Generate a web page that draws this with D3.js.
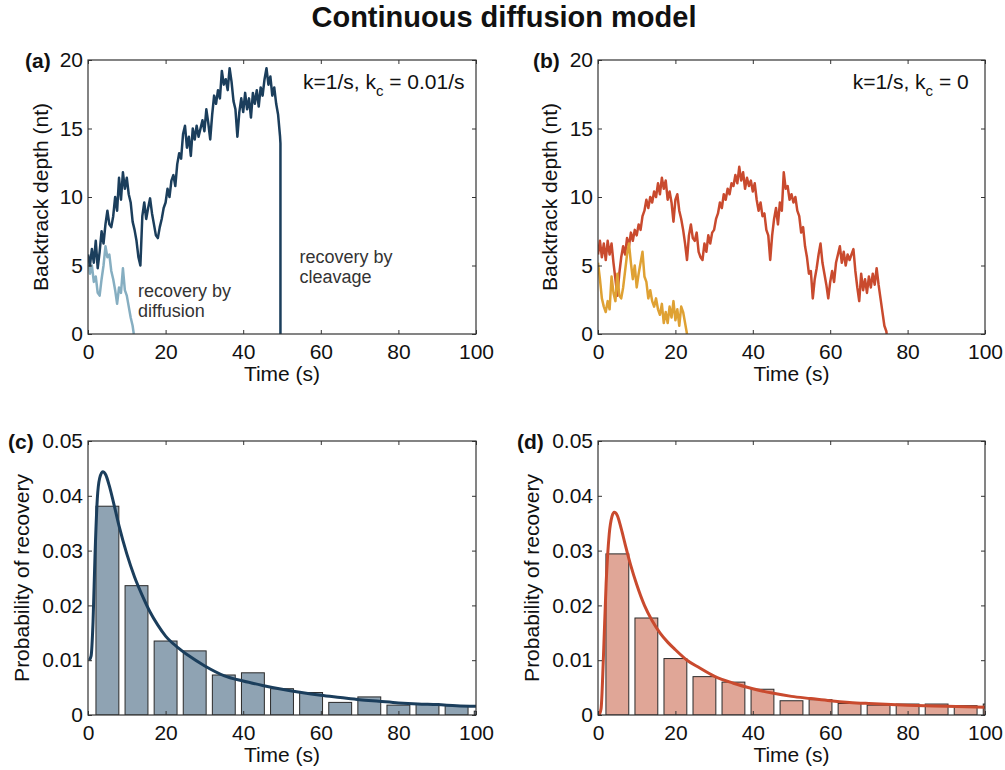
<!DOCTYPE html>
<html>
<head>
<meta charset="utf-8">
<script src="https://cdn.jsdelivr.net/npm/d3@7"></script>
<style>
  html, body { margin: 0; padding: 0; background: #ffffff; }
  svg { display: block; font-family: "Liberation Sans", Arial, Helvetica, sans-serif; }
</style>
</head>
<body>
<svg id="chart" width="1005" height="770"></svg>
<script>
// ---------------- DATA ----------------
const titleText = "Continuous diffusion model";
const timeTicks = [0, 20, 40, 60, 80, 100];
const depthTicks = [0, 5, 10, 15, 20];
const probTicks = [0, 0.01, 0.02, 0.03, 0.04, 0.05];

const traceStep = 0.5; // s between samples

// (a) trajectory ending by cleavage (dark)
const traceCleave = [
  5.8, 5.0, 6.2, 5.2, 6.8, 4.8, 6.0, 7.5, 6.6, 8.0,
  9.0, 8.0, 7.8, 8.6, 10.0, 9.0, 11.4, 9.8, 11.8, 10.6,
  11.4, 10.2, 9.6, 8.2, 7.6, 6.8, 5.6, 5.0, 8.6, 9.6,
  8.4, 9.2, 9.9, 8.8, 8.0, 7.2, 7.0, 7.8, 8.4, 9.2,
  9.6, 10.6, 10.0, 11.2, 11.6, 10.8, 12.4, 13.2, 12.8, 14.6,
  15.2, 13.6, 14.4, 13.0, 15.0, 14.2, 15.2, 14.4, 15.0, 15.6,
  14.8, 16.4, 15.4, 14.2, 16.0, 17.4, 16.8, 17.8, 17.2, 19.2,
  18.2, 18.6, 17.8, 19.4, 18.4, 17.0, 16.4, 14.4, 16.2, 17.2,
  16.2, 17.6, 16.4, 17.2, 15.8, 17.6, 16.8, 17.8, 16.6, 18.0,
  17.4, 18.6, 19.4, 18.2, 18.8, 17.4, 18.0, 16.8, 16.0, 14.4
];
const traceCleaveTailT = [49.6, 49.6];
const traceCleaveTailV = [13.9, 0];

// (a) trajectory ending by diffusion (light)
const traceDiffuse = [
  5.6, 4.4, 5.0, 3.8, 4.2, 3.0, 2.8, 4.0, 5.0, 6.4,
  5.6, 5.8, 4.6, 4.0, 3.2, 2.2, 3.4, 3.0, 4.8, 3.2,
  2.8, 2.0, 1.2, 0.6
];
const traceDiffuseTailT = [11.8];
const traceDiffuseTailV = [0];

// (b) long trajectory (red)
const traceLong = [
  5.8, 6.8, 5.6, 6.6, 5.4, 6.8, 5.8, 6.6, 5.2, 4.0,
  2.8, 4.4, 5.6, 6.4, 5.8, 7.0, 6.4, 7.4, 6.8, 7.6,
  7.2, 8.0, 7.6, 8.6, 9.0, 9.8, 9.2, 10.0, 9.6, 10.4,
  10.0, 11.0, 10.2, 11.4, 10.6, 11.2, 9.8, 10.4, 9.6, 8.2,
  9.8, 10.2, 9.0, 8.4, 7.6, 6.6, 5.4, 7.2, 8.0, 7.0,
  6.8, 7.4, 6.0, 5.6, 5.4, 6.6, 6.0, 7.2, 6.6, 7.4,
  7.6, 8.4, 8.8, 9.6, 9.2, 10.2, 9.8, 10.6, 10.2, 11.0,
  10.8, 11.6, 11.0, 12.2, 11.2, 11.8, 10.6, 11.4, 10.8, 11.2,
  10.4, 11.0, 9.8, 9.0, 9.6, 8.6, 8.8, 7.6, 7.2, 5.4,
  7.2, 8.4, 9.2, 8.0, 9.6, 9.0, 11.8, 10.6, 10.8, 9.8,
  10.2, 9.6, 10.0, 9.0, 8.6, 7.4, 7.8, 6.4, 5.6, 4.4,
  4.6, 2.6, 4.0, 4.8, 5.8, 6.6, 5.2, 4.4, 3.6, 2.6,
  3.8, 4.6, 3.8, 5.2, 5.8, 6.4, 5.2, 6.0, 5.0, 5.8,
  5.4, 5.8, 6.2, 4.6, 3.4, 2.4, 4.4, 3.2, 4.0, 3.0,
  4.2, 3.4, 4.4, 3.6, 4.8, 3.6, 2.6, 1.6, 0.6, 0.2
];
const traceLongTailT = [74.6];
const traceLongTailV = [0];

// (b) short trajectory (orange)
const traceShort = [
  5.2, 4.0, 2.6, 2.0, 1.6, 2.4, 1.8, 4.2, 3.0, 2.4,
  4.4, 2.8, 2.6, 3.4, 4.6, 5.8, 6.6, 5.2, 4.0, 5.0,
  3.4, 4.4, 5.2, 6.0, 4.2, 3.8, 2.6, 3.2, 2.4, 2.0,
  2.6, 1.8, 1.4, 2.2, 0.8, 1.6, 0.8, 2.0, 1.2, 2.4,
  1.0, 1.8, 0.6, 2.0, 1.6, 0.8
];
const traceShortTailT = [23.0];
const traceShortTailV = [0];

// (c),(d) histograms
const binCenters = [5, 12.5, 20, 27.5, 35, 42.5, 50, 57.5, 65, 72.5, 80, 87.5, 95, 102.5];
const binWidth = 5.9;
const histC = [0.0381, 0.0236, 0.0135, 0.0117, 0.0073, 0.0077, 0.0048, 0.0041, 0.0023, 0.0033, 0.0018, 0.0021, 0.0017, 0.0007];
const histD = [0.0294, 0.0177, 0.0103, 0.0070, 0.0060, 0.0047, 0.0026, 0.0028, 0.0021, 0.0018, 0.0020, 0.0020, 0.0017, 0.0020];

// fitted curves
const fitCT = [0.3, 0.8, 1.3, 1.8, 2.4, 3.0, 3.8, 4.6, 5.5, 6.5, 8, 10, 12, 14, 16, 18, 20, 23, 26, 30, 35, 40, 45, 50, 55, 60, 65, 70, 75, 80, 85, 90, 95, 100];
const fitCP = [0.0100, 0.0108, 0.0170, 0.0290, 0.0395, 0.0432, 0.0444, 0.0438, 0.0418, 0.0390, 0.0345, 0.0294, 0.0252, 0.0218, 0.0188, 0.0164, 0.0144, 0.0124, 0.0108, 0.0090, 0.0072, 0.0062, 0.0054, 0.0047, 0.0041, 0.0036, 0.0032, 0.0028, 0.0025, 0.0022, 0.0020, 0.0019, 0.0017, 0.0016];
const fitDT = [0.3, 0.8, 1.4, 2.1, 2.9, 3.6, 4.2, 5.0, 6.0, 7.0, 8.5, 10, 12, 14, 16, 18, 20, 23, 26, 30, 35, 40, 45, 50, 55, 60, 65, 70, 80, 90, 100];
const fitDP = [0.0, 0.0012, 0.0105, 0.0240, 0.0330, 0.0362, 0.0370, 0.0364, 0.0340, 0.0312, 0.0272, 0.0238, 0.0200, 0.0172, 0.0150, 0.0133, 0.0119, 0.0100, 0.0087, 0.0071, 0.0058, 0.0048, 0.0040, 0.0034, 0.0030, 0.0026, 0.0023, 0.0021, 0.0018, 0.0016, 0.0014];

// ---------------- DRAWING ----------------
const svg = d3.select("#chart");
const FONT = 21;

svg.append("text")
  .attr("x", 504).attr("y", 27)
  .attr("text-anchor", "middle")
  .attr("font-size", 29).attr("font-weight", "bold")
  .attr("fill", "#111")
  .text(titleText);

const panels = {
  a: {x0: 88, x1: 476, y0: 60, y1: 334},
  b: {x0: 598, x1: 985, y0: 60, y1: 334},
  c: {x0: 88, x1: 476, y0: 441, y1: 715},
  d: {x0: 598, x1: 985, y0: 441, y1: 715}
};

function makeAxes(id, p, yDomain, yTicks, yFmt, yLabel, yLabelOffset, tag) {
  const x = d3.scaleLinear().domain([0, 100]).range([p.x0, p.x1]);
  const y = d3.scaleLinear().domain(yDomain).range([p.y1, p.y0]);
  const g = svg.append("g").attr("id", "panel-" + id);

  g.append("clipPath").attr("id", "clip-" + id)
    .append("rect").attr("x", p.x0).attr("y", p.y0)
    .attr("width", p.x1 - p.x0).attr("height", p.y1 - p.y0);

  const plot = g.append("g").attr("clip-path", `url(#clip-${id})`);
  const axesG = g.append("g");

  const styleAxis = sel => {
    sel.select(".domain").remove();
    sel.selectAll(".tick line").attr("stroke", "#333").attr("stroke-width", 1);
    sel.selectAll(".tick text").attr("font-size", FONT).attr("fill", "#111")
      .attr("font-family", "Liberation Sans, Arial, sans-serif");
  };

  axesG.append("g").attr("transform", `translate(0,${p.y1})`)
    .call(d3.axisBottom(x).tickValues(timeTicks).tickSize(-4).tickPadding(10).tickFormat(d3.format("d")))
    .call(styleAxis);
  axesG.append("g").attr("transform", `translate(0,${p.y0})`)
    .call(d3.axisTop(x).tickValues(timeTicks).tickSize(-4).tickFormat(""))
    .call(styleAxis);
  axesG.append("g").attr("transform", `translate(${p.x0},0)`)
    .call(d3.axisLeft(y).tickValues(yTicks).tickSize(-4).tickPadding(5).tickFormat(yFmt))
    .call(styleAxis);
  axesG.append("g").attr("transform", `translate(${p.x1},0)`)
    .call(d3.axisRight(y).tickValues(yTicks).tickSize(-4).tickFormat(""))
    .call(styleAxis);

  axesG.append("text")
    .attr("x", (p.x0 + p.x1) / 2).attr("y", p.y1 + 47)
    .attr("text-anchor", "middle").attr("font-size", FONT).attr("fill", "#111")
    .text("Time (s)");

  axesG.append("text")
    .attr("transform", `translate(${p.x0 - yLabelOffset},${(p.y0 + p.y1) / 2}) rotate(-90)`)
    .attr("text-anchor", "middle").attr("font-size", FONT).attr("fill", "#111")
    .text(yLabel);

  axesG.append("text")
    .attr("x", tag.x).attr("y", tag.y)
    .attr("font-size", FONT).attr("font-weight", "bold").attr("fill", "#111")
    .text(tag.text);

  return {x, y, g, plot, axesG, p};
}

function frame(ax) {
  const p = ax.p;
  ax.axesG.append("rect")
    .attr("x", p.x0).attr("y", p.y0)
    .attr("width", p.x1 - p.x0).attr("height", p.y1 - p.y0)
    .attr("fill", "none").attr("stroke", "#333").attr("stroke-width", 1.2);
}

function tracePoints(values, tailT, tailV) {
  const pts = values.map((v, i) => [i * traceStep, v]);
  tailT.forEach((t, i) => pts.push([t, tailV[i]]));
  return pts;
}

function drawTrace(ax, pts, color, w) {
  const line = d3.line().x(d => ax.x(d[0])).y(d => ax.y(d[1]));
  ax.plot.append("path").datum(pts)
    .attr("d", line).attr("fill", "none")
    .attr("stroke", color).attr("stroke-width", w)
    .attr("stroke-linejoin", "round").attr("stroke-linecap", "butt");
}

function annot(ax, t, v, lines, size, color, lh) {
  const txt = ax.axesG.append("text")
    .attr("x", ax.x(t)).attr("y", ax.y(v))
    .attr("font-size", size).attr("fill", color);
  lines.forEach((l, i) => {
    txt.append("tspan").attr("x", ax.x(t)).attr("dy", i === 0 ? 0 : lh).text(l);
  });
}

function kLabel(ax, t, v, after) {
  const txt = ax.axesG.append("text")
    .attr("x", ax.x(t)).attr("y", ax.y(v))
    .attr("font-size", FONT).attr("fill", "#111");
  txt.append("tspan").text("k=1/s, k");
  txt.append("tspan").attr("font-size", 15).attr("dy", 7).text("c");
  txt.append("tspan").attr("dy", -7).text(" = " + after);
}

// Panel (a)
const A = makeAxes("a", panels.a, [0, 20], depthTicks, d3.format("d"), "Backtrack depth (nt)", 40, {x: 25, y: 68, text: "(a)"});
drawTrace(A, tracePoints(traceDiffuse, traceDiffuseTailT, traceDiffuseTailV), "#86aec1", 2.5);
drawTrace(A, tracePoints(traceCleave, traceCleaveTailT, traceCleaveTailV), "#1b3e5c", 2.5);
frame(A);
kLabel(A, 55.4, 17.9, "0.01/s");
annot(A, 12.9, 2.7, ["recovery by", "diffusion"], 18, "#333", 20);
annot(A, 54.5, 5.2, ["recovery by", "cleavage"], 18, "#333", 20);

// Panel (b)
const B = makeAxes("b", panels.b, [0, 20], depthTicks, d3.format("d"), "Backtrack depth (nt)", 41, {x: 533, y: 68, text: "(b)"});
drawTrace(B, tracePoints(traceLong, traceLongTailT, traceLongTailV), "#c94a2e", 2.5);
drawTrace(B, tracePoints(traceShort, traceShortTailT, traceShortTailV), "#dfa133", 2.5);
frame(B);
kLabel(B, 65.8, 17.9, "0");

// Panels (c), (d)
const probFmt = d => d === 0 ? "0" : d3.format(".2f")(d);

function drawHist(ax, vals, fill, fitT, fitP, curveColor) {
  ax.plot.selectAll("rect.bar").data(vals).enter().append("rect")
    .attr("class", "bar")
    .attr("x", (d, i) => ax.x(binCenters[i] - binWidth / 2))
    .attr("width", (d, i) => ax.x(binCenters[i] + binWidth / 2) - ax.x(binCenters[i] - binWidth / 2))
    .attr("y", d => ax.y(d))
    .attr("height", d => ax.y(0) - ax.y(d))
    .attr("fill", fill).attr("stroke", "#2a2a2a").attr("stroke-width", 1);
  const pts = fitT.map((t, i) => [t, fitP[i]]);
  const line = d3.line().curve(d3.curveMonotoneX).x(d => ax.x(d[0])).y(d => ax.y(d[1]));
  ax.plot.append("path").datum(pts).attr("d", line)
    .attr("fill", "none").attr("stroke", curveColor).attr("stroke-width", 3)
    .attr("stroke-linejoin", "round");
}

const C = makeAxes("c", panels.c, [0, 0.05], probTicks, probFmt, "Probability of recovery", 59, {x: 8, y: 449, text: "(c)"});
drawHist(C, histC, "#8fa3b3", fitCT, fitCP, "#1b3e5c");
frame(C);

const D = makeAxes("d", panels.d, [0, 0.05], probTicks, probFmt, "Probability of recovery", 59, {x: 517, y: 449, text: "(d)"});
drawHist(D, histD, "#e0a697", fitDT, fitDP, "#c94a2e");
frame(D);
</script>
</body>
</html>
